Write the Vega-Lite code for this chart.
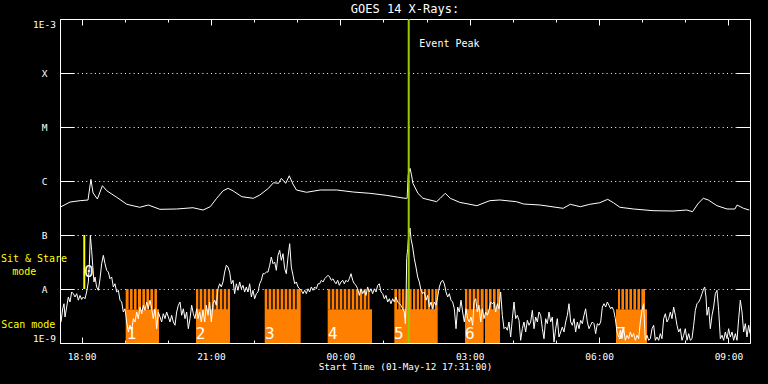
{
  "$schema": "https://vega.github.io/schema/vega-lite/v6.json",
  "width": 690,
  "height": 324,
  "autosize": {"type": "none"},
  "padding": {"left": 60, "top": 19, "right": 18, "bottom": 41},
  "background": "black",
  "config": {
    "view": {"stroke": "white", "strokeWidth": 1, "fill": "black"},
    "font": "DejaVu Sans Mono",
    "axis": {"domain": false, "grid": false, "labelColor": "white", "tickColor": "white", "labelFont": "DejaVu Sans Mono", "labelFontSize": 9.5, "titleColor": "white", "titleFont": "DejaVu Sans Mono", "titleFontWeight": "normal", "titleFontSize": 9.3}
  },
  "title": {"text": "GOES 14 X-Rays:", "color": "white", "fontSize": 12, "fontWeight": "normal", "font": "DejaVu Sans Mono", "anchor": "middle", "offset": 5, "baseline": "alphabetic", "dy": 12},
  "datasets": {
    "blocks": [
      {"start": 19.023, "end": 19.796, "lo": 1e-9, "hi": 4.2e-9},
      {"start": 19.023, "end": 19.749, "lo": 4.2e-9, "hi": 1e-8},
      {"start": 20.654, "end": 21.442, "lo": 1e-9, "hi": 1e-8},
      {"start": 22.247, "end": 23.081, "lo": 1e-9, "hi": 1e-8},
      {"start": 23.707, "end": 24.735, "lo": 1e-9, "hi": 4.2e-9},
      {"start": 23.707, "end": 24.677, "lo": 4.2e-9, "hi": 1e-8},
      {"start": 25.252, "end": 26.258, "lo": 1e-9, "hi": 1e-8},
      {"start": 26.891, "end": 27.703, "lo": 1e-9, "hi": 1e-8},
      {"start": 30.393, "end": 31.112, "lo": 1e-9, "hi": 4.2e-9},
      {"start": 30.439, "end": 31.065, "lo": 4.2e-9, "hi": 1e-8}
    ],
    "gaps": [
      {"hour": 19.107, "lo": 4.2e-9, "hi": 1e-8}, {"hour": 19.200, "lo": 4.2e-9, "hi": 1e-8}, {"hour": 19.292, "lo": 4.2e-9, "hi": 1e-8}, {"hour": 19.394, "lo": 4.2e-9, "hi": 1e-8}, {"hour": 19.487, "lo": 4.2e-9, "hi": 1e-8}, {"hour": 19.580, "lo": 4.2e-9, "hi": 1e-8}, {"hour": 19.673, "lo": 4.2e-9, "hi": 1e-8},
      {"hour": 20.723, "lo": 4.2e-9, "hi": 1e-8}, {"hour": 20.816, "lo": 4.2e-9, "hi": 1e-8}, {"hour": 20.909, "lo": 4.2e-9, "hi": 1e-8}, {"hour": 21.001, "lo": 4.2e-9, "hi": 1e-8}, {"hour": 21.094, "lo": 4.2e-9, "hi": 1e-8}, {"hour": 21.187, "lo": 4.2e-9, "hi": 1e-8}, {"hour": 21.280, "lo": 4.2e-9, "hi": 1e-8}, {"hour": 21.372, "lo": 4.2e-9, "hi": 1e-8},
      {"hour": 22.322, "lo": 4.2e-9, "hi": 1e-8}, {"hour": 22.415, "lo": 4.2e-9, "hi": 1e-8}, {"hour": 22.507, "lo": 4.2e-9, "hi": 1e-8}, {"hour": 22.600, "lo": 4.2e-9, "hi": 1e-8}, {"hour": 22.693, "lo": 4.2e-9, "hi": 1e-8}, {"hour": 22.786, "lo": 4.2e-9, "hi": 1e-8}, {"hour": 22.878, "lo": 4.2e-9, "hi": 1e-8}, {"hour": 22.971, "lo": 4.2e-9, "hi": 1e-8},
      {"hour": 23.784, "lo": 4.2e-9, "hi": 1e-8}, {"hour": 23.877, "lo": 4.2e-9, "hi": 1e-8}, {"hour": 23.970, "lo": 4.2e-9, "hi": 1e-8}, {"hour": 24.062, "lo": 4.2e-9, "hi": 1e-8}, {"hour": 24.155, "lo": 4.2e-9, "hi": 1e-8}, {"hour": 24.248, "lo": 4.2e-9, "hi": 1e-8}, {"hour": 24.341, "lo": 4.2e-9, "hi": 1e-8}, {"hour": 24.433, "lo": 4.2e-9, "hi": 1e-8}, {"hour": 24.526, "lo": 4.2e-9, "hi": 1e-8}, {"hour": 24.619, "lo": 4.2e-9, "hi": 1e-8},
      {"hour": 25.331, "lo": 4.2e-9, "hi": 1e-8}, {"hour": 25.414, "lo": 4.2e-9, "hi": 1e-8}, {"hour": 25.500, "lo": 4.2e-9, "hi": 1e-8}, {"hour": 25.669, "lo": 4.2e-9, "hi": 1e-8}, {"hour": 25.755, "lo": 4.2e-9, "hi": 1e-8}, {"hour": 25.841, "lo": 4.2e-9, "hi": 1e-8}, {"hour": 25.924, "lo": 4.2e-9, "hi": 1e-8}, {"hour": 26.010, "lo": 4.2e-9, "hi": 1e-8}, {"hour": 26.096, "lo": 4.2e-9, "hi": 1e-8}, {"hour": 26.179, "lo": 4.2e-9, "hi": 1e-8},
      {"hour": 26.961, "lo": 4.2e-9, "hi": 1e-8}, {"hour": 27.054, "lo": 4.2e-9, "hi": 1e-8}, {"hour": 27.146, "lo": 4.2e-9, "hi": 1e-8}, {"hour": 27.239, "lo": 4.2e-9, "hi": 1e-8}, {"hour": 27.339, "lo": 1e-9, "hi": 1e-8}, {"hour": 27.432, "lo": 4.2e-9, "hi": 1e-8}, {"hour": 27.524, "lo": 4.2e-9, "hi": 1e-8}, {"hour": 27.617, "lo": 4.2e-9, "hi": 1e-8},
      {"hour": 30.502, "lo": 4.2e-9, "hi": 1e-8}, {"hour": 30.594, "lo": 4.2e-9, "hi": 1e-8}, {"hour": 30.687, "lo": 4.2e-9, "hi": 1e-8}, {"hour": 30.780, "lo": 4.2e-9, "hi": 1e-8}, {"hour": 30.873, "lo": 4.2e-9, "hi": 1e-8}, {"hour": 30.965, "lo": 4.2e-9, "hi": 1e-8}
    ],
    "sitstare": [{"hour": 18.063, "lo": 1e-8, "hi": 1e-7}],
    "event": [{"hour": 25.586, "lo": 1e-9, "hi": 1e-3}],
    "long": [
      {"hour": 17.5, "flux": 3.26e-7}, {"hour": 17.733, "flux": 4.08e-7}, {"hour": 17.967, "flux": 4.32e-7}, {"hour": 18.15, "flux": 4.45e-7},
      {"hour": 18.217, "flux": 1.07e-6}, {"hour": 18.267, "flux": 6.0e-7}, {"hour": 18.367, "flux": 4.64e-7}, {"hour": 18.483, "flux": 8.18e-7},
      {"hour": 18.583, "flux": 6.61e-7}, {"hour": 18.817, "flux": 4.99e-7}, {"hour": 19.05, "flux": 3.70e-7}, {"hour": 19.35, "flux": 3.26e-7},
      {"hour": 19.55, "flux": 3.59e-7}, {"hour": 19.817, "flux": 2.99e-7}, {"hour": 20.2, "flux": 3.03e-7}, {"hour": 20.583, "flux": 3.2e-7},
      {"hour": 20.817, "flux": 2.9e-7}, {"hour": 20.983, "flux": 3.34e-7}, {"hour": 21.133, "flux": 4.78e-7}, {"hour": 21.283, "flux": 6.61e-7},
      {"hour": 21.4, "flux": 7.32e-7}, {"hour": 21.517, "flux": 6.53e-7}, {"hour": 21.717, "flux": 5.12e-7}, {"hour": 21.983, "flux": 4.78e-7},
      {"hour": 22.133, "flux": 5.5e-7}, {"hour": 22.333, "flux": 7.32e-7}, {"hour": 22.45, "flux": 9.3e-7}, {"hour": 22.567, "flux": 9.06e-7},
      {"hour": 22.633, "flux": 1.12e-6}, {"hour": 22.733, "flux": 9.06e-7}, {"hour": 22.817, "flux": 1.25e-6}, {"hour": 22.9, "flux": 8.8e-7},
      {"hour": 22.983, "flux": 6.81e-7}, {"hour": 23.217, "flux": 6.18e-7}, {"hour": 23.533, "flux": 6.81e-7}, {"hour": 23.917, "flux": 6.81e-7},
      {"hour": 24.3, "flux": 6.25e-7}, {"hour": 24.683, "flux": 5.92e-7}, {"hour": 25.067, "flux": 5.43e-7}, {"hour": 25.5, "flux": 4.78e-7},
      {"hour": 25.55, "flux": 4.8e-7}, {"hour": 25.575, "flux": 1.3e-6}, {"hour": 25.617, "flux": 1.72e-6}, {"hour": 25.65, "flux": 1.3e-6},
      {"hour": 25.683, "flux": 9.06e-7}, {"hour": 25.8, "flux": 5.92e-7}, {"hour": 25.917, "flux": 4.78e-7}, {"hour": 26.233, "flux": 4.14e-7},
      {"hour": 26.317, "flux": 4.78e-7}, {"hour": 26.433, "flux": 5.92e-7}, {"hour": 26.55, "flux": 4.78e-7}, {"hour": 26.767, "flux": 4.03e-7},
      {"hour": 27.167, "flux": 3.49e-7}, {"hour": 27.467, "flux": 4.32e-7}, {"hour": 27.7, "flux": 4.45e-7}, {"hour": 28.083, "flux": 4.14e-7},
      {"hour": 28.25, "flux": 3.75e-7}, {"hour": 28.633, "flux": 3.59e-7}, {"hour": 29.167, "flux": 3.12e-7}, {"hour": 29.333, "flux": 3.70e-7},
      {"hour": 29.567, "flux": 3.34e-7}, {"hour": 29.783, "flux": 3.70e-7}, {"hour": 30.017, "flux": 3.96e-7}, {"hour": 30.2, "flux": 4.58e-7},
      {"hour": 30.333, "flux": 3.96e-7}, {"hour": 30.483, "flux": 3.26e-7}, {"hour": 30.8, "flux": 3.03e-7}, {"hour": 31.25, "flux": 2.82e-7},
      {"hour": 31.717, "flux": 2.78e-7}, {"hour": 32.033, "flux": 2.9e-7}, {"hour": 32.167, "flux": 2.7e-7}, {"hour": 32.3, "flux": 3.86e-7},
      {"hour": 32.417, "flux": 4.78e-7}, {"hour": 32.533, "flux": 4.45e-7}, {"hour": 32.733, "flux": 3.49e-7}, {"hour": 32.967, "flux": 3.03e-7},
      {"hour": 33.15, "flux": 3.03e-7}, {"hour": 33.2, "flux": 3.59e-7}, {"hour": 33.35, "flux": 3.12e-7}, {"hour": 33.483, "flux": 2.9e-7}
    ],
    "short": [
      {"hour": 17.523, "flux": 2.45e-9}, {"hour": 17.562, "flux": 4.3e-9}, {"hour": 17.593, "flux": 5.34e-9}, {"hour": 17.616, "flux": 3.03e-9},
      {"hour": 17.655, "flux": 4.64e-9}, {"hour": 17.693, "flux": 7.11e-9}, {"hour": 17.732, "flux": 5.74e-9}, {"hour": 17.771, "flux": 8.8e-9},
      {"hour": 17.809, "flux": 8.2e-9}, {"hour": 17.848, "flux": 7.11e-9}, {"hour": 17.887, "flux": 8.2e-9}, {"hour": 17.925, "flux": 6.2e-9},
      {"hour": 17.964, "flux": 7.6e-9}, {"hour": 18.002, "flux": 6.4e-9}, {"hour": 18.041, "flux": 7.11e-9}, {"hour": 18.080, "flux": 6.6e-9},
      {"hour": 18.118, "flux": 8.8e-9}, {"hour": 18.157, "flux": 1.35e-8}, {"hour": 18.180, "flux": 2.75e-8}, {"hour": 18.203, "flux": 9.9e-8},
      {"hour": 18.234, "flux": 5.2e-8}, {"hour": 18.258, "flux": 2.75e-8}, {"hour": 18.288, "flux": 1.35e-8}, {"hour": 18.312, "flux": 1.67e-8},
      {"hour": 18.350, "flux": 1.09e-8}, {"hour": 18.389, "flux": 9.45e-9}, {"hour": 18.428, "flux": 1.55e-8}, {"hour": 18.466, "flux": 2.94e-8},
      {"hour": 18.505, "flux": 4.2e-8}, {"hour": 18.544, "flux": 2.94e-8}, {"hour": 18.582, "flux": 2.22e-8}, {"hour": 18.621, "flux": 2.06e-8},
      {"hour": 18.659, "flux": 1.55e-8}, {"hour": 18.698, "flux": 1.67e-8}, {"hour": 18.737, "flux": 1.09e-8}, {"hour": 18.775, "flux": 1.25e-8},
      {"hour": 18.814, "flux": 8.8e-9}, {"hour": 18.853, "flux": 9.45e-9}, {"hour": 18.891, "flux": 6.2e-9}, {"hour": 18.930, "flux": 5.74e-9},
      {"hour": 18.969, "flux": 3.75e-9}, {"hour": 19.007, "flux": 4.3e-9}, {"hour": 19.046, "flux": 2.45e-9}, {"hour": 19.085, "flux": 1.6e-9},
      {"hour": 19.123, "flux": 2.13e-9}, {"hour": 19.162, "flux": 1.72e-9}, {"hour": 19.201, "flux": 2.82e-9}, {"hour": 19.239, "flux": 2.45e-9},
      {"hour": 19.278, "flux": 3.75e-9}, {"hour": 19.316, "flux": 2.82e-9}, {"hour": 19.355, "flux": 4.64e-9}, {"hour": 19.394, "flux": 3.49e-9},
      {"hour": 19.432, "flux": 5.0e-9}, {"hour": 19.471, "flux": 4.03e-9}, {"hour": 19.510, "flux": 5.74e-9}, {"hour": 19.548, "flux": 4.3e-9},
      {"hour": 19.587, "flux": 6.2e-9}, {"hour": 19.626, "flux": 4.3e-9}, {"hour": 19.664, "flux": 2.82e-9}, {"hour": 19.703, "flux": 4.3e-9},
      {"hour": 19.742, "flux": 1.84e-9}, {"hour": 19.780, "flux": 3.75e-9}, {"hour": 19.819, "flux": 3.03e-9}, {"hour": 19.857, "flux": 2.45e-9},
      {"hour": 19.896, "flux": 3.49e-9}, {"hour": 19.935, "flux": 2.82e-9}, {"hour": 19.973, "flux": 3.75e-9}, {"hour": 20.012, "flux": 3.03e-9},
      {"hour": 20.051, "flux": 2.45e-9}, {"hour": 20.089, "flux": 3.26e-9}, {"hour": 20.128, "flux": 2.45e-9}, {"hour": 20.167, "flux": 2.13e-9},
      {"hour": 20.205, "flux": 3.75e-9}, {"hour": 20.244, "flux": 5.0e-9}, {"hour": 20.283, "flux": 5.74e-9}, {"hour": 20.321, "flux": 3.26e-9},
      {"hour": 20.360, "flux": 4.3e-9}, {"hour": 20.399, "flux": 2.82e-9}, {"hour": 20.437, "flux": 3.75e-9}, {"hour": 20.476, "flux": 1.84e-9},
      {"hour": 20.514, "flux": 2.82e-9}, {"hour": 20.553, "flux": 5.0e-9}, {"hour": 20.592, "flux": 3.49e-9}, {"hour": 20.630, "flux": 2.82e-9},
      {"hour": 20.669, "flux": 4.3e-9},
      {"hour": 20.700, "flux": 2.82e-9}, {"hour": 20.739, "flux": 3.75e-9}, {"hour": 20.777, "flux": 2.45e-9}, {"hour": 20.816, "flux": 4.03e-9},
      {"hour": 20.855, "flux": 2.45e-9}, {"hour": 20.893, "flux": 5.0e-9}, {"hour": 20.932, "flux": 3.26e-9}, {"hour": 20.971, "flux": 5.74e-9},
      {"hour": 21.009, "flux": 2.45e-9}, {"hour": 21.048, "flux": 5.34e-9}, {"hour": 21.087, "flux": 6.2e-9}, {"hour": 21.125, "flux": 5.0e-9},
      {"hour": 21.164, "flux": 1.01e-8}, {"hour": 21.202, "flux": 1.25e-8}, {"hour": 21.241, "flux": 1.09e-8}, {"hour": 21.280, "flux": 1.35e-8},
      {"hour": 21.318, "flux": 2.06e-8}, {"hour": 21.357, "flux": 2.75e-8}, {"hour": 21.396, "flux": 2.55e-8}, {"hour": 21.434, "flux": 2.06e-8},
      {"hour": 21.473, "flux": 1.25e-8}, {"hour": 21.512, "flux": 1.45e-8}, {"hour": 21.550, "flux": 8.2e-9}, {"hour": 21.589, "flux": 1.25e-8},
      {"hour": 21.628, "flux": 9.45e-9}, {"hour": 21.666, "flux": 1.35e-8}, {"hour": 21.705, "flux": 1.01e-8}, {"hour": 21.743, "flux": 1.17e-8},
      {"hour": 21.782, "flux": 8.8e-9}, {"hour": 21.821, "flux": 1.09e-8}, {"hour": 21.859, "flux": 8.8e-9}, {"hour": 21.898, "flux": 1.25e-8},
      {"hour": 21.937, "flux": 7.11e-9}, {"hour": 21.975, "flux": 9.45e-9}, {"hour": 22.014, "flux": 6.6e-9}, {"hour": 22.053, "flux": 8.2e-9},
      {"hour": 22.091, "flux": 8.8e-9}, {"hour": 22.130, "flux": 1.25e-8}, {"hour": 22.169, "flux": 1.45e-8}, {"hour": 22.207, "flux": 1.92e-8},
      {"hour": 22.246, "flux": 1.92e-8}, {"hour": 22.285, "flux": 2.06e-8}, {"hour": 22.323, "flux": 2.06e-8}, {"hour": 22.362, "flux": 2.75e-8},
      {"hour": 22.400, "flux": 3.91e-8}, {"hour": 22.439, "flux": 2.94e-8}, {"hour": 22.478, "flux": 3.16e-8}, {"hour": 22.516, "flux": 2.22e-8},
      {"hour": 22.555, "flux": 4.2e-8}, {"hour": 22.594, "flux": 5.2e-8}, {"hour": 22.632, "flux": 3.4e-8}, {"hour": 22.671, "flux": 4.5e-8},
      {"hour": 22.710, "flux": 2.38e-8}, {"hour": 22.748, "flux": 1.92e-8}, {"hour": 22.787, "flux": 3.91e-8}, {"hour": 22.826, "flux": 6.9e-8},
      {"hour": 22.864, "flux": 2.55e-8}, {"hour": 22.903, "flux": 1.8e-8}, {"hour": 22.942, "flux": 1.25e-8}, {"hour": 22.980, "flux": 1.35e-8},
      {"hour": 23.019, "flux": 1.09e-8}, {"hour": 23.058, "flux": 1.01e-8}, {"hour": 23.096, "flux": 9.45e-9}, {"hour": 23.135, "flux": 8.2e-9},
      {"hour": 23.173, "flux": 9.45e-9}, {"hour": 23.212, "flux": 8.2e-9}, {"hour": 23.251, "flux": 1.01e-8}, {"hour": 23.289, "flux": 8.8e-9},
      {"hour": 23.328, "flux": 1.09e-8}, {"hour": 23.367, "flux": 9.45e-9}, {"hour": 23.405, "flux": 1.09e-8}, {"hour": 23.444, "flux": 1.01e-8},
      {"hour": 23.483, "flux": 1.25e-8}, {"hour": 23.521, "flux": 1.25e-8}, {"hour": 23.560, "flux": 1.45e-8}, {"hour": 23.599, "flux": 1.35e-8},
      {"hour": 23.637, "flux": 1.55e-8}, {"hour": 23.676, "flux": 1.67e-8}, {"hour": 23.715, "flux": 1.8e-8}, {"hour": 23.753, "flux": 1.67e-8},
      {"hour": 23.792, "flux": 1.45e-8}, {"hour": 23.830, "flux": 1.55e-8}, {"hour": 23.869, "flux": 1.35e-8},
      {"hour": 23.900, "flux": 1.25e-8}, {"hour": 23.939, "flux": 1.45e-8}, {"hour": 23.977, "flux": 1.17e-8}, {"hour": 24.016, "flux": 1.35e-8},
      {"hour": 24.055, "flux": 1.45e-8}, {"hour": 24.093, "flux": 1.25e-8}, {"hour": 24.132, "flux": 1.45e-8}, {"hour": 24.171, "flux": 1.35e-8},
      {"hour": 24.209, "flux": 1.55e-8}, {"hour": 24.248, "flux": 1.92e-8}, {"hour": 24.287, "flux": 1.45e-8}, {"hour": 24.325, "flux": 1.25e-8},
      {"hour": 24.364, "flux": 1.17e-8}, {"hour": 24.402, "flux": 1.01e-8}, {"hour": 24.441, "flux": 7.6e-9}, {"hour": 24.480, "flux": 1.01e-8},
      {"hour": 24.518, "flux": 8.2e-9}, {"hour": 24.557, "flux": 9.45e-9}, {"hour": 24.596, "flux": 7.6e-9}, {"hour": 24.634, "flux": 1.09e-8},
      {"hour": 24.673, "flux": 8.8e-9}, {"hour": 24.712, "flux": 1.01e-8}, {"hour": 24.750, "flux": 8.2e-9}, {"hour": 24.789, "flux": 1.01e-8},
      {"hour": 24.828, "flux": 8.8e-9}, {"hour": 24.866, "flux": 1.17e-8}, {"hour": 24.905, "flux": 1.25e-8}, {"hour": 24.944, "flux": 8.8e-9},
      {"hour": 24.982, "flux": 8.2e-9}, {"hour": 25.021, "flux": 6.6e-9}, {"hour": 25.059, "flux": 7.6e-9}, {"hour": 25.098, "flux": 5.74e-9},
      {"hour": 25.137, "flux": 6.6e-9}, {"hour": 25.175, "flux": 5.34e-9}, {"hour": 25.214, "flux": 6.6e-9}, {"hour": 25.253, "flux": 5.74e-9},
      {"hour": 25.291, "flux": 7.11e-9}, {"hour": 25.330, "flux": 5.74e-9}, {"hour": 25.369, "flux": 5.34e-9}, {"hour": 25.407, "flux": 5.0e-9},
      {"hour": 25.446, "flux": 4.3e-9}, {"hour": 25.485, "flux": 3.75e-9}, {"hour": 25.508, "flux": 2.28e-9}, {"hour": 25.523, "flux": 5.0e-9},
      {"hour": 25.539, "flux": 3.64e-8}, {"hour": 25.562, "flux": 5.57e-8}, {"hour": 25.585, "flux": 1.0e-7}, {"hour": 25.616, "flux": 1.35e-7},
      {"hour": 25.639, "flux": 8.54e-8}, {"hour": 25.678, "flux": 5.99e-8}, {"hour": 25.716, "flux": 3.64e-8}, {"hour": 25.755, "flux": 2.55e-8},
      {"hour": 25.794, "flux": 1.67e-8}, {"hour": 25.832, "flux": 1.35e-8}, {"hour": 25.871, "flux": 9.45e-9}, {"hour": 25.910, "flux": 8.2e-9},
      {"hour": 25.948, "flux": 8.8e-9}, {"hour": 25.987, "flux": 6.2e-9}, {"hour": 26.026, "flux": 7.6e-9}, {"hour": 26.064, "flux": 4.64e-9},
      {"hour": 26.103, "flux": 5.74e-9}, {"hour": 26.142, "flux": 4.3e-9}, {"hour": 26.180, "flux": 5.74e-9}, {"hour": 26.219, "flux": 5.0e-9},
      {"hour": 26.257, "flux": 7.11e-9}, {"hour": 26.296, "flux": 1.09e-8}, {"hour": 26.335, "flux": 1.35e-8}, {"hour": 26.373, "flux": 1.45e-8},
      {"hour": 26.412, "flux": 1.25e-8}, {"hour": 26.451, "flux": 8.8e-9}, {"hour": 26.489, "flux": 7.11e-9}, {"hour": 26.528, "flux": 8.2e-9},
      {"hour": 26.567, "flux": 6.2e-9}, {"hour": 26.605, "flux": 5.74e-9}, {"hour": 26.644, "flux": 4.3e-9}, {"hour": 26.683, "flux": 1.84e-9},
      {"hour": 26.721, "flux": 4.64e-9}, {"hour": 26.760, "flux": 3.75e-9}, {"hour": 26.799, "flux": 6.2e-9}, {"hour": 26.837, "flux": 3.75e-9},
      {"hour": 26.876, "flux": 2.45e-9}, {"hour": 26.915, "flux": 4.3e-9}, {"hour": 26.953, "flux": 2.82e-9}, {"hour": 26.992, "flux": 2.45e-9},
      {"hour": 27.030, "flux": 3.03e-9}, {"hour": 27.069, "flux": 2.13e-9},
      {"hour": 27.100, "flux": 5.74e-9}, {"hour": 27.139, "flux": 6.6e-9}, {"hour": 27.177, "flux": 3.75e-9}, {"hour": 27.216, "flux": 5.0e-9},
      {"hour": 27.255, "flux": 2.45e-9}, {"hour": 27.293, "flux": 4.3e-9}, {"hour": 27.332, "flux": 2.82e-9}, {"hour": 27.371, "flux": 3.75e-9},
      {"hour": 27.409, "flux": 3.26e-9}, {"hour": 27.448, "flux": 4.03e-9}, {"hour": 27.487, "flux": 5.74e-9}, {"hour": 27.525, "flux": 5.34e-9},
      {"hour": 27.564, "flux": 5.74e-9}, {"hour": 27.602, "flux": 3.75e-9}, {"hour": 27.641, "flux": 5.34e-9}, {"hour": 27.680, "flux": 4.3e-9},
      {"hour": 27.718, "flux": 8.8e-9}, {"hour": 27.757, "flux": 3.26e-9}, {"hour": 27.796, "flux": 1.84e-9}, {"hour": 27.834, "flux": 1.98e-9},
      {"hour": 27.873, "flux": 1.72e-9}, {"hour": 27.912, "flux": 2.45e-9}, {"hour": 27.950, "flux": 1.29e-9}, {"hour": 27.989, "flux": 2.82e-9},
      {"hour": 28.028, "flux": 5.74e-9}, {"hour": 28.066, "flux": 2.82e-9}, {"hour": 28.105, "flux": 3.26e-9}, {"hour": 28.144, "flux": 2.63e-9},
      {"hour": 28.182, "flux": 1.12e-9}, {"hour": 28.221, "flux": 1.84e-9}, {"hour": 28.259, "flux": 2.45e-9}, {"hour": 28.298, "flux": 1.6e-9},
      {"hour": 28.337, "flux": 2.63e-9}, {"hour": 28.375, "flux": 2.13e-9}, {"hour": 28.414, "flux": 2.45e-9}, {"hour": 28.453, "flux": 4.03e-9},
      {"hour": 28.491, "flux": 1.84e-9}, {"hour": 28.530, "flux": 3.03e-9}, {"hour": 28.569, "flux": 2.45e-9}, {"hour": 28.607, "flux": 3.75e-9},
      {"hour": 28.646, "flux": 3.26e-9}, {"hour": 28.685, "flux": 1.84e-9}, {"hour": 28.723, "flux": 1.2e-9}, {"hour": 28.762, "flux": 2.82e-9},
      {"hour": 28.800, "flux": 2.28e-9}, {"hour": 28.839, "flux": 3.75e-9}, {"hour": 28.878, "flux": 2.45e-9}, {"hour": 28.916, "flux": 3.03e-9},
      {"hour": 28.955, "flux": 1.04e-9}, {"hour": 28.994, "flux": 1.84e-9}, {"hour": 29.032, "flux": 2.82e-9}, {"hour": 29.071, "flux": 1.29e-9},
      {"hour": 29.110, "flux": 1.6e-9}, {"hour": 29.148, "flux": 1.98e-9}, {"hour": 29.187, "flux": 1.6e-9}, {"hour": 29.226, "flux": 2.45e-9},
      {"hour": 29.264, "flux": 3.26e-9}, {"hour": 29.303, "flux": 5.34e-9}, {"hour": 29.342, "flux": 2.45e-9}, {"hour": 29.380, "flux": 2.13e-9},
      {"hour": 29.419, "flux": 2.82e-9}, {"hour": 29.457, "flux": 1.6e-9}, {"hour": 29.496, "flux": 2.45e-9}, {"hour": 29.535, "flux": 1.84e-9},
      {"hour": 29.573, "flux": 2.63e-9}, {"hour": 29.612, "flux": 2.28e-9}, {"hour": 29.651, "flux": 3.26e-9}, {"hour": 29.689, "flux": 4.3e-9},
      {"hour": 29.728, "flux": 2.45e-9}, {"hour": 29.767, "flux": 1.84e-9}, {"hour": 29.805, "flux": 2.13e-9}, {"hour": 29.844, "flux": 2.45e-9},
      {"hour": 29.883, "flux": 2.28e-9}, {"hour": 29.921, "flux": 1.49e-9}, {"hour": 29.960, "flux": 2.28e-9}, {"hour": 29.999, "flux": 2.13e-9},
      {"hour": 30.037, "flux": 2.45e-9}, {"hour": 30.076, "flux": 4.64e-9}, {"hour": 30.115, "flux": 5.34e-9}, {"hour": 30.153, "flux": 4.64e-9},
      {"hour": 30.192, "flux": 5.74e-9}, {"hour": 30.230, "flux": 5.0e-9}, {"hour": 30.269, "flux": 4.3e-9},
      {"hour": 30.300, "flux": 4.64e-9}, {"hour": 30.339, "flux": 4.03e-9}, {"hour": 30.377, "flux": 2.82e-9}, {"hour": 30.416, "flux": 1.6e-9},
      {"hour": 30.455, "flux": 1.29e-9}, {"hour": 30.493, "flux": 1.72e-9}, {"hour": 30.532, "flux": 1.2e-9}, {"hour": 30.571, "flux": 1.84e-9},
      {"hour": 30.609, "flux": 1.12e-9}, {"hour": 30.648, "flux": 1.39e-9}, {"hour": 30.687, "flux": 1.2e-9}, {"hour": 30.725, "flux": 1.6e-9},
      {"hour": 30.764, "flux": 1.29e-9}, {"hour": 30.802, "flux": 1.49e-9}, {"hour": 30.841, "flux": 1.12e-9}, {"hour": 30.880, "flux": 1.39e-9},
      {"hour": 30.918, "flux": 1.2e-9}, {"hour": 30.957, "flux": 2.45e-9}, {"hour": 30.996, "flux": 4.03e-9}, {"hour": 31.034, "flux": 5.34e-9},
      {"hour": 31.058, "flux": 1.84e-9}, {"hour": 31.073, "flux": 1.12e-9}, {"hour": 31.112, "flux": 1.39e-9}, {"hour": 31.150, "flux": 1.12e-9},
      {"hour": 31.189, "flux": 1.2e-9}, {"hour": 31.228, "flux": 1.84e-9}, {"hour": 31.266, "flux": 2.13e-9}, {"hour": 31.305, "flux": 1.12e-9},
      {"hour": 31.344, "flux": 1.29e-9}, {"hour": 31.382, "flux": 1.12e-9}, {"hour": 31.421, "flux": 1.49e-9}, {"hour": 31.459, "flux": 1.2e-9},
      {"hour": 31.498, "flux": 2.82e-9}, {"hour": 31.537, "flux": 3.49e-9}, {"hour": 31.575, "flux": 2.45e-9}, {"hour": 31.614, "flux": 2.82e-9},
      {"hour": 31.653, "flux": 3.75e-9}, {"hour": 31.691, "flux": 2.82e-9}, {"hour": 31.730, "flux": 4.64e-9}, {"hour": 31.769, "flux": 3.26e-9},
      {"hour": 31.807, "flux": 2.13e-9}, {"hour": 31.846, "flux": 1.6e-9}, {"hour": 31.885, "flux": 1.84e-9}, {"hour": 31.923, "flux": 1.12e-9},
      {"hour": 31.962, "flux": 1.39e-9}, {"hour": 32.000, "flux": 1.84e-9}, {"hour": 32.039, "flux": 1.12e-9}, {"hour": 32.078, "flux": 1.49e-9},
      {"hour": 32.116, "flux": 1.12e-9}, {"hour": 32.155, "flux": 1.2e-9}, {"hour": 32.194, "flux": 2.13e-9}, {"hour": 32.232, "flux": 4.03e-9},
      {"hour": 32.271, "flux": 5.34e-9}, {"hour": 32.310, "flux": 5.74e-9}, {"hour": 32.348, "flux": 6.6e-9}, {"hour": 32.387, "flux": 8.2e-9},
      {"hour": 32.426, "flux": 1.01e-8}, {"hour": 32.449, "flux": 1.09e-8}, {"hour": 32.480, "flux": 7.11e-9}, {"hour": 32.503, "flux": 3.26e-9},
      {"hour": 32.542, "flux": 4.64e-9}, {"hour": 32.580, "flux": 1.84e-9}, {"hour": 32.619, "flux": 3.26e-9}, {"hour": 32.657, "flux": 4.64e-9},
      {"hour": 32.696, "flux": 8.2e-9}, {"hour": 32.735, "flux": 9.45e-9}, {"hour": 32.773, "flux": 4.03e-9}, {"hour": 32.812, "flux": 1.2e-9},
      {"hour": 32.851, "flux": 1.39e-9}, {"hour": 32.889, "flux": 1.12e-9}, {"hour": 32.928, "flux": 1.6e-9}, {"hour": 32.967, "flux": 1.2e-9},
      {"hour": 33.005, "flux": 1.84e-9}, {"hour": 33.044, "flux": 1.29e-9}, {"hour": 33.083, "flux": 1.6e-9}, {"hour": 33.121, "flux": 1.12e-9},
      {"hour": 33.160, "flux": 1.49e-9}, {"hour": 33.199, "flux": 1.12e-9}, {"hour": 33.237, "flux": 2.82e-9}, {"hour": 33.276, "flux": 6.2e-9},
      {"hour": 33.315, "flux": 3.75e-9}, {"hour": 33.353, "flux": 1.6e-9}, {"hour": 33.392, "flux": 2.28e-9}, {"hour": 33.430, "flux": 1.29e-9},
      {"hour": 33.469, "flux": 2.13e-9}, {"hour": 33.500, "flux": 1.49e-9}
    ],
    "numbers": [
      {"hour": 18.057, "flux": 1.67e-8, "text": "0"},
      {"hour": 19.047, "flux": 1.17e-9, "text": "1"},
      {"hour": 20.647, "flux": 1.17e-9, "text": "2"},
      {"hour": 22.254, "flux": 1.17e-9, "text": "3"},
      {"hour": 23.714, "flux": 1.17e-9, "text": "4"},
      {"hour": 25.245, "flux": 1.17e-9, "text": "5"},
      {"hour": 26.891, "flux": 1.17e-9, "text": "6"},
      {"hour": 30.400, "flux": 1.17e-9, "text": "7"}
    ],
    "modes": [
      {"hour": 16.897, "flux": 3.1e-8, "text": "Sit & Stare"},
      {"hour": 16.672, "flux": 1.82e-8, "text": "mode"},
      {"hour": 16.765, "flux": 1.87e-9, "text": "Scan mode"}
    ],
    "peaklabel": [{"hour": 25.832, "flux": 3.07e-4, "text": "Event Peak"}]
  },
  "layer": [
    {
      "data": {"name": "blocks"},
      "mark": {"type": "rect", "color": "#ff8000"},
      "encoding": {
        "x": {"field": "start", "type": "quantitative",
          "scale": {"domain": [17.5, 33.5], "nice": false, "zero": false},
          "axis": {"orient": "bottom", "values": [18, 21, 24, 27, 30, 33],
            "labelExpr": "(datum.value % 24 < 10 ? '0' : '') + (datum.value % 24) + ':00'",
            "tickSize": -6, "labelPadding": 14, "labelFlush": false, "labelOverlap": false, "domain": false, "grid": false,
            "title": "Start Time (01-May-12 17:31:00)", "titlePadding": 2}},
        "x2": {"field": "end"},
        "y": {"field": "lo", "type": "quantitative",
          "scale": {"type": "log", "domain": [1e-9, 1e-3], "nice": false},
          "axis": {"orient": "left", "values": [1e-9, 1e-8, 1e-7, 1e-6, 1e-5, 1e-4, 1e-3],
            "labelExpr": "datum.value > 5e-4 ? '1E-3' : datum.value > 5e-5 ? 'X' : datum.value > 5e-6 ? 'M' : datum.value > 5e-7 ? 'C' : datum.value > 5e-8 ? 'B' : datum.value > 5e-9 ? 'A' : '1E-9'",
            "tickSize": -14, "labelPadding": 30, "labelAlign": "center", "labelFlush": true,
            "grid": true, "gridColor": "white", "gridDash": [1, 3.3], "gridWidth": 1, "gridOpacity": 1,
            "domain": false, "title": null}},
        "y2": {"field": "hi"}
      }
    },
    {
      "data": {"name": "gaps"},
      "mark": {"type": "rule", "color": "black", "strokeWidth": 1.4},
      "encoding": {
        "x": {"field": "hour", "type": "quantitative",
          "axis": {"orient": "top", "values": [18, 21, 24, 27, 30, 33], "labels": false,
            "tickSize": -6, "domain": false, "grid": false, "title": null}},
        "y": {"field": "lo", "type": "quantitative",
          "axis": {"orient": "right", "values": [1e-9, 1e-8, 1e-7, 1e-6, 1e-5, 1e-4, 1e-3], "labels": false,
            "tickSize": -14, "domain": false, "grid": false, "title": null}},
        "y2": {"field": "hi"}
      }
    },
    {
      "data": {"name": "sitstare"},
      "mark": {"type": "rule", "color": "#ffff00", "strokeWidth": 2},
      "encoding": {
        "x": {"field": "hour", "type": "quantitative",
          "axis": {"orient": "bottom", "values": [18, 19, 20, 21, 22, 23, 24, 25, 26, 27, 28, 29, 30, 31, 32, 33], "labels": false,
            "tickSize": -3, "domain": false, "grid": false, "title": null}},
        "y": {"field": "lo", "type": "quantitative", "axis": null},
        "y2": {"field": "hi"}
      }
    },
    {
      "data": {"name": "short"},
      "mark": {"type": "line", "color": "white", "strokeWidth": 1},
      "encoding": {
        "x": {"field": "hour", "type": "quantitative",
          "axis": {"orient": "top", "values": [18, 19, 20, 21, 22, 23, 24, 25, 26, 27, 28, 29, 30, 31, 32, 33], "labels": false,
            "tickSize": -3, "domain": false, "grid": false, "title": null}},
        "y": {"field": "flux", "type": "quantitative", "axis": null}
      }
    },
    {
      "data": {"name": "long"},
      "mark": {"type": "line", "color": "white", "strokeWidth": 1},
      "encoding": {
        "x": {"field": "hour", "type": "quantitative", "axis": null},
        "y": {"field": "flux", "type": "quantitative", "axis": null}
      }
    },
    {
      "data": {"name": "event"},
      "mark": {"type": "rule", "color": "#99cc00", "strokeWidth": 2},
      "encoding": {
        "x": {"field": "hour", "type": "quantitative", "axis": null},
        "y": {"field": "lo", "type": "quantitative", "axis": null},
        "y2": {"field": "hi"}
      }
    },
    {
      "data": {"name": "numbers"},
      "mark": {"type": "text", "color": "white", "fontSize": 16, "font": "DejaVu Sans Mono", "align": "left", "baseline": "alphabetic"},
      "encoding": {
        "x": {"field": "hour", "type": "quantitative", "axis": null},
        "y": {"field": "flux", "type": "quantitative", "axis": null},
        "text": {"field": "text"}
      }
    },
    {
      "data": {"name": "modes"},
      "mark": {"type": "text", "color": "#ffff00", "fontSize": 10, "font": "DejaVu Sans Mono", "align": "center", "baseline": "alphabetic"},
      "encoding": {
        "x": {"field": "hour", "type": "quantitative", "axis": null},
        "y": {"field": "flux", "type": "quantitative", "axis": null},
        "text": {"field": "text"}
      }
    },
    {
      "data": {"name": "peaklabel"},
      "mark": {"type": "text", "color": "white", "fontSize": 10, "font": "DejaVu Sans Mono", "align": "left", "baseline": "alphabetic"},
      "encoding": {
        "x": {"field": "hour", "type": "quantitative", "axis": null},
        "y": {"field": "flux", "type": "quantitative", "axis": null},
        "text": {"field": "text"}
      }
    }
  ],
  "resolve": {"axis": {"x": "independent", "y": "independent"}}
}
